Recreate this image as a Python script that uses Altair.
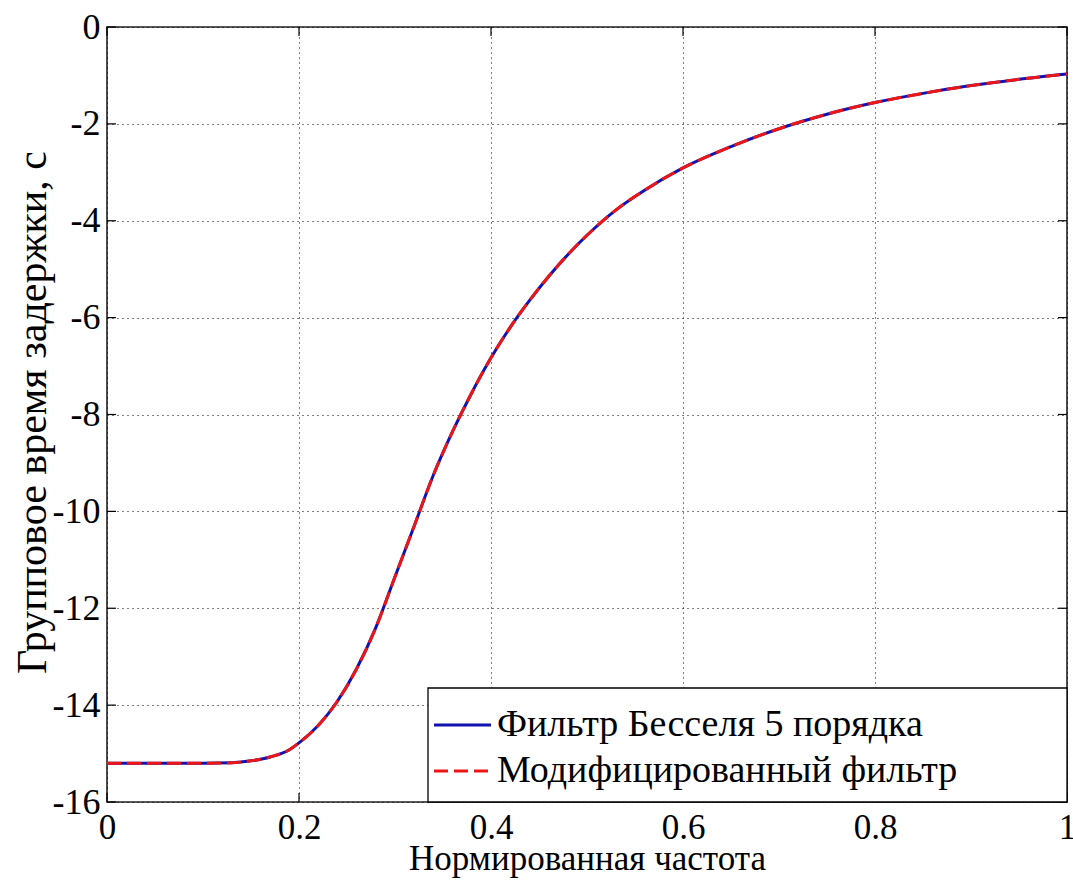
import altair as alt
import pandas as pd

# Normalized frequency and group delay readings (both curves practically coincide)
freq = [0.00, 0.05, 0.10, 0.13, 0.15, 0.17, 0.19, 0.20, 0.22, 0.24, 0.26, 0.28,
        0.30, 0.32, 0.34, 0.36, 0.38, 0.40, 0.42, 0.44, 0.46, 0.48, 0.50, 0.53,
        0.56, 0.60, 0.65, 0.70, 0.75, 0.80, 0.85, 0.90, 0.95, 1.00]
bessel = [-15.2, -15.2, -15.2, -15.19, -15.15, -15.07, -14.92, -14.78, -14.42,
          -13.92, -13.25, -12.4, -11.35, -10.3, -9.25, -8.35, -7.55, -6.83, -6.2,
          -5.65, -5.15, -4.7, -4.3, -3.78, -3.37, -2.91, -2.47, -2.1, -1.8,
          -1.56, -1.37, -1.21, -1.08, -0.97]
modified = [-15.2, -15.2, -15.2, -15.19, -15.15, -15.07, -14.92, -14.78, -14.42,
            -13.92, -13.25, -12.4, -11.35, -10.3, -9.25, -8.35, -7.55, -6.83, -6.2,
            -5.65, -5.15, -4.7, -4.3, -3.78, -3.37, -2.91, -2.47, -2.1, -1.8,
            -1.56, -1.37, -1.21, -1.08, -0.97]

series_names = ["Фильтр Бесселя 5 порядка", "Модифицированный фильтр"]
series_colors = ["#1212b0", "#ee1515"]
x_ticks = [0, 0.2, 0.4, 0.6, 0.8, 1]
y_ticks = [-16, -14, -12, -10, -8, -6, -4, -2, 0]
x_title = "Нормированная частота"
y_title = "Групповое время задержки, с"

W, H = 960, 775
FONT = "Liberation Serif"

df_b = pd.DataFrame({"f": freq, "d": bessel})
df_m = pd.DataFrame({"f": freq, "d": modified})

xs = alt.Scale(domain=[0, 1], nice=False, zero=False)
ys = alt.Scale(domain=[-16, 0], nice=False, zero=False)

minus_fix = "replace(datum.label, '\u2212', '-')"

x_axis = alt.Axis(values=x_ticks, format="~g", labelExpr=minus_fix, grid=True,
                  gridDash=[1, 4], gridColor="#000", gridWidth=1, ticks=False,
                  domain=False, labelFont=FONT, labelFontSize=35, labelColor="#000",
                  labelPadding=8, labelFlush=False, labelOverlap=False,
                  title=x_title, titleFont=FONT, titleFontSize=35,
                  titleFontWeight="normal", titleColor="#000",
                  titleX=W / 2, titleY=67, titleBaseline="alphabetic",
                  titleAlign="center")
y_axis = alt.Axis(values=y_ticks, labelExpr=minus_fix, grid=True,
                  gridDash=[1, 4], gridColor="#000", gridWidth=1, ticks=False,
                  domain=False, labelFont=FONT, labelFontSize=36, labelColor="#000",
                  labelPadding=7, labelFlush=False, labelOverlap=False,
                  title=y_title, titleFont=FONT, titleFontSize=42,
                  titleFontWeight="normal", titleColor="#000",
                  titleX=-62, titleY=385, titleAngle=270,
                  titleBaseline="alphabetic", titleAlign="center")

base_b = alt.Chart(df_b).mark_line(color=series_colors[0], strokeWidth=3,
                                   interpolate="monotone").encode(
    x=alt.X("f:Q", scale=xs, axis=x_axis),
    y=alt.Y("d:Q", scale=ys, axis=y_axis),
)
line_m = alt.Chart(df_m).mark_line(color=series_colors[1], strokeWidth=3,
                                   strokeDash=[14, 6],
                                   interpolate="monotone").encode(
    x=alt.X("f:Q", scale=xs),
    y=alt.Y("d:Q", scale=ys),
)

# inward tick marks on all four sides
tx = pd.DataFrame({"v": x_ticks})
ty = pd.DataFrame({"v": y_ticks})
TL = 9
tick_layers = [
    alt.Chart(tx).mark_rule(color="#000", strokeWidth=1.2).encode(
        x=alt.X("v:Q", scale=xs), y=alt.value(H - TL), y2=alt.value(H)),
    alt.Chart(tx).mark_rule(color="#000", strokeWidth=1.2).encode(
        x=alt.X("v:Q", scale=xs), y=alt.value(0), y2=alt.value(TL)),
    alt.Chart(ty).mark_rule(color="#000", strokeWidth=1.2).encode(
        y=alt.Y("v:Q", scale=ys), x=alt.value(0), x2=alt.value(TL)),
    alt.Chart(ty).mark_rule(color="#000", strokeWidth=1.2).encode(
        y=alt.Y("v:Q", scale=ys), x=alt.value(W - TL), x2=alt.value(W)),
]

# legend box (lower right, MATLAB style)
one = pd.DataFrame({"a": [0]})
legend_box = alt.Chart(one).mark_rect(fill="white", stroke="#000",
                                      strokeWidth=1.3).encode(
    x=alt.value(321), x2=alt.value(W), y=alt.value(661), y2=alt.value(H))
legend_layers = [legend_box]
row_y = [698, 744]
dashes = [[1, 0], [14, 6]]
for name, col, ry, dash in zip(series_names, series_colors, row_y, dashes):
    legend_layers.append(
        alt.Chart(one).mark_rule(color=col, strokeWidth=3, strokeDash=dash).encode(
            x=alt.value(327), x2=alt.value(384), y=alt.value(ry)))
    legend_layers.append(
        alt.Chart(pd.DataFrame({"t": [name]})).mark_text(
            font=FONT, fontSize=38, color="#000", align="left",
            baseline="middle").encode(
            x=alt.value(390), y=alt.value(ry), text="t:N"))

chart = alt.layer(base_b, line_m, *tick_layers, *legend_layers).properties(
    width=W, height=H,
    autosize=alt.AutoSizeParams(type="none"),
    padding={"left": 107, "top": 27, "right": 6, "bottom": 81},
    background="white",
).configure(font=FONT).configure_axis(
    labelFont=FONT, titleFont=FONT
).configure_text(font=FONT).configure_view(stroke="#222", strokeWidth=1.6)

chart.save("out.html", embed_options={"renderer": "svg", "actions": False})
